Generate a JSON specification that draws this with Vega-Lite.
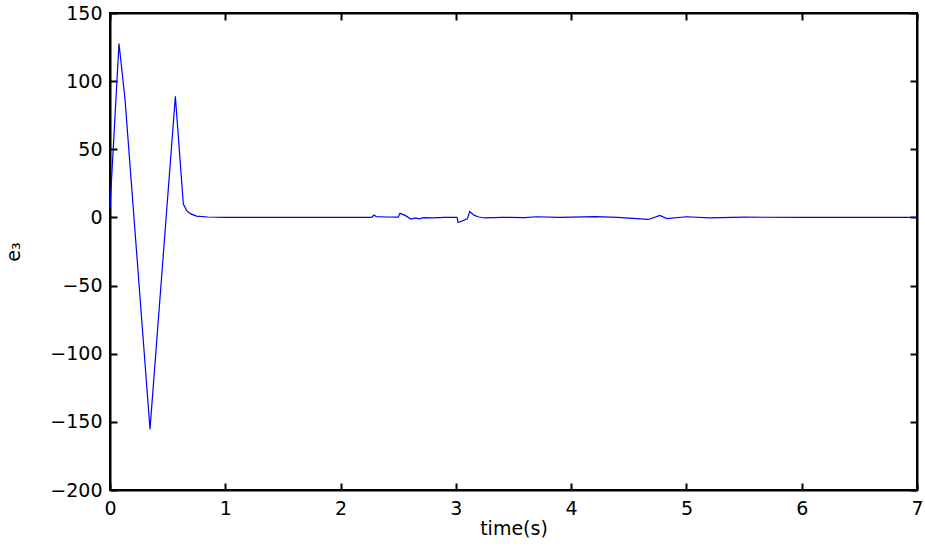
{
  "$schema": "https://vega.github.io/schema/vega-lite/v6.json",
  "width": 807,
  "height": 477,
  "autosize": {"type": "none"},
  "padding": {"left": 110, "top": 13, "right": 8, "bottom": 57},
  "background": "white",
  "config": {
    "view": {"stroke": "black", "strokeWidth": 2},
    "axis": {
      "domainColor": "black", "domainWidth": 2,
      "tickColor": "black", "tickWidth": 2, "tickSize": -7,
      "labelFont": "DejaVu Sans", "labelFontSize": 19, "labelColor": "black", "labelFlush": false,
      "titleFont": "DejaVu Sans", "titleFontSize": 19, "titleFontWeight": "normal", "titleColor": "black",
      "grid": false
    }
  },
  "data": {"values": [
    {"t": 0, "e": 7},
    {"t": 0.078, "e": 127.6},
    {"t": 0.13, "e": 87},
    {"t": 0.347, "e": -155.3},
    {"t": 0.567, "e": 88.8},
    {"t": 0.636, "e": 9.8},
    {"t": 0.665, "e": 5},
    {"t": 0.7, "e": 2.6},
    {"t": 0.75, "e": 1},
    {"t": 0.85, "e": 0.3},
    {"t": 1.0, "e": 0},
    {"t": 1.5, "e": 0},
    {"t": 2.0, "e": 0},
    {"t": 2.27, "e": 0},
    {"t": 2.29, "e": 1.7},
    {"t": 2.31, "e": 0.6},
    {"t": 2.4, "e": 0.3},
    {"t": 2.5, "e": 0.2},
    {"t": 2.515, "e": 3},
    {"t": 2.56, "e": 1.5},
    {"t": 2.61, "e": -1.2},
    {"t": 2.65, "e": -0.3},
    {"t": 2.68, "e": -1},
    {"t": 2.72, "e": -0.2},
    {"t": 2.8, "e": -0.4},
    {"t": 2.9, "e": 0},
    {"t": 3.01, "e": 0},
    {"t": 3.02, "e": -3.7},
    {"t": 3.1, "e": -1},
    {"t": 3.12, "e": 4.4},
    {"t": 3.16, "e": 1.5},
    {"t": 3.2, "e": 0.3},
    {"t": 3.25, "e": -0.4},
    {"t": 3.4, "e": 0.1},
    {"t": 3.6, "e": -0.2},
    {"t": 3.7, "e": 0.5},
    {"t": 3.9, "e": 0},
    {"t": 4.21, "e": 0.6},
    {"t": 4.4, "e": 0},
    {"t": 4.67, "e": -1.5},
    {"t": 4.77, "e": 1.5},
    {"t": 4.83, "e": -0.8},
    {"t": 5.0, "e": 0.5},
    {"t": 5.2, "e": -0.3},
    {"t": 5.5, "e": 0.2},
    {"t": 6.0, "e": 0},
    {"t": 6.5, "e": 0.1},
    {"t": 7.0, "e": 0}
  ]},
  "layer": [
    {
      "mark": {"type": "line", "color": "#0000ff", "strokeWidth": 1.2},
      "encoding": {
        "x": {"field": "t", "type": "quantitative",
              "scale": {"domain": [0, 7], "nice": false},
              "axis": {"title": "time(s)", "values": [0, 1, 2, 3, 4, 5, 6, 7], "labelPadding": 16, "titlePadding": 1}},
        "y": {"field": "e", "type": "quantitative",
              "scale": {"domain": [-200, 150], "nice": false},
              "axis": {"title": "e₃", "values": [-200, -150, -100, -50, 0, 50, 100, 150], "labelPadding": 15, "titlePadding": 26}}
      }
    },
    {
      "mark": {"type": "point", "opacity": 0},
      "encoding": {
        "x": {"field": "t", "type": "quantitative",
              "scale": {"domain": [0, 7], "nice": false},
              "axis": {"orient": "top", "title": null, "labels": false, "values": [0, 1, 2, 3, 4, 5, 6, 7]}},
        "y": {"field": "e", "type": "quantitative",
              "scale": {"domain": [-200, 150], "nice": false},
              "axis": {"orient": "right", "title": null, "labels": false, "values": [-200, -150, -100, -50, 0, 50, 100, 150]}}
      }
    }
  ],
  "resolve": {"axis": {"x": "independent", "y": "independent"}}
}
